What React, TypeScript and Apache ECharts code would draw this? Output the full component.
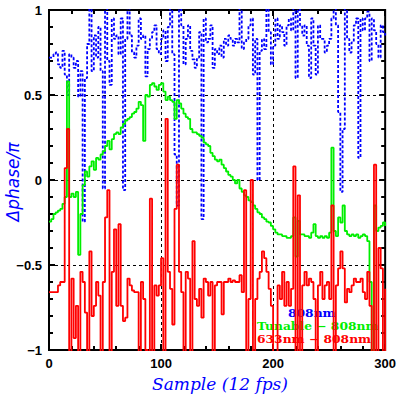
import React, { useEffect, useRef } from "react";
import * as echarts from "echarts";

// sample index (every 2nd sample shown)
const SAMPLES: number[] = Array.from({ length: 151 }, (_, i) => i * 2);

const BLUE_808: number[] = [
  0.72, 0.72, 0.74, 0.75, 0.68, 0.66, 0.76, 0.62, 0.5, 0.74,
  0.72, 0.66, 0.7, 0.49, 0.64, -0.245, 0.6, 0.8, 1.05, 0.64,
  0.85, 0.72, 0.9, 0.64, -0.05, 1.05, 0.7, 0.56, 0.95, 0.83,
  0.85, 0.74, 0.95, -0.06, 0.83, 1.05, 0.85, 0.75, 0.72, 0.79,
  0.95, 0.83, 0.85, 0.61, 0.77, 0.83, 0.87, 0.91, 0.77, 0.74,
  0.83, 0.88, 0.7, 0.9, 1.05, 0.74, 0.15, -0.15, 1.05, 0.91,
  0.68, 0.83, 0.91, 0.76, 0.71, 0.66, 0.72, 0.87, -0.23, 0.95,
  0.81, 0.83, 0.91, 0.66, 0.77, 0.74, 0.79, 0.72, 0.83, 0.79,
  0.85, 0.83, 0.79, 0.83, 0.81, 1.05, 0.77, 0.81, 0.83, 0.91,
  0.95, 0.62, 0.83, 0.0, 0.76, 0.83, 0.77, 1.05, 0.87, 0.68,
  0.79, 0.95, 0.83, 0.91, 0.87, 0.79, 0.91, 0.95, 0.88, 1.05,
  0.6, 1.05, 0.91, 0.85, 0.91, 0.79, 0.6, 0.95, 0.79, 0.62,
  0.91, 0.83, 0.83, 0.75, 0.79, 0.83, 0.95, 1.05, 0.91, 0.4,
  -0.07, 0.3, 1.05, 0.83, 0.75, 0.81, 0.91, 0.95, 0.13, 0.95,
  0.88, 0.95, 0.99, 0.7, 0.95, 0.88, 0.8, 0.72, 0.91, 0.87,
  0.85,
];

const GREEN_TUNABLE: number[] = [
  -0.245, -0.23, -0.2, -0.19, -0.18, -0.17, -0.14, -0.1, 0.58, -0.1,
  -0.08, -0.1, -0.07, -0.44, -0.2, -0.03, 0.05, 0.02, 0.08, 0.11,
  0.06, 0.13, 0.12, 0.15, 0.17, 0.2, 0.23, 0.18, 0.24, 0.27,
  0.28, 0.27, 0.31, 0.33, 0.35, 0.36, 0.37, 0.39, 0.4, 0.42,
  0.46, 0.44, 0.23, 0.5, 0.49, 0.56, 0.57, 0.55, 0.53, 0.56,
  0.57, 0.52, 0.47, 0.49, 0.47, 0.46, 0.36, 0.47, 0.45, 0.42,
  0.39, 0.37, 0.36, 0.3, 0.28, 0.28, 0.27, 0.26, 0.25, 0.22,
  0.21, 0.2, 0.16, 0.14, 0.12, 0.11, 0.12, 0.09, 0.07, 0.05,
  0.03, 0.02, 0.0, -0.02, 0.0, -0.05, -0.07, -0.09, -0.1, -0.12,
  -0.13, -0.15, -0.17, -0.19, -0.2, -0.22, -0.23, -0.245, -0.25, -0.27,
  -0.29, -0.31, -0.32, -0.32, -0.33, -0.33, -0.34, -0.34, -0.33, -0.22,
  -0.45, -0.24, -0.32, -0.32, -0.33, -0.33, -0.34, -0.31, -0.26, -0.33,
  -0.34, -0.33, -0.34, -0.33, -0.34, -0.31, 0.19, -0.3, -0.33, -0.22,
  -0.25, -0.15, -0.3, -0.32, -0.33, -0.32, -0.33, -0.32, -0.34, -0.33,
  -0.32, -0.33, -0.36, -0.6, -1.05, -0.15, -0.3, -0.28, -0.27, -0.25,
  -0.27,
];

const RED_633: number[] = [
  -0.66, -0.66, -0.66, -0.66, -0.62, -0.6, -0.6, 0.07, 0.3, -1.05,
  -0.58, -0.93, -0.74, -1.05, -0.54, -0.6, -0.78, -1.05, -0.42, -0.8,
  -0.74, -0.6, -0.68, -1.05, -0.6, -0.22, -0.06, -1.05, -0.54, -0.29,
  -0.74, -0.26, -0.74, -0.83, -0.81, -0.58, -0.62, -0.65, -0.66, -0.66,
  -1.05, -0.6, -0.7, -1.0, -1.05, -0.11, -1.05, -0.62, -0.68, -0.62,
  -0.46, -1.05, 0.36, -0.54, -0.64, -0.85, -0.17, 0.09, -0.54, -0.66,
  -1.05, -0.54, -0.58, -1.05, -0.36, -0.7, -0.74, -0.64, -0.81, -0.58,
  -0.6, -0.68, -0.6, -1.05, -0.62, -0.6, -0.6, -0.79, -0.6, -0.6,
  -0.58, -0.6, -0.59, -0.6, -0.6, -0.56, -0.66, -0.06, -1.05, -0.7,
  0.0, -1.05, -0.7, -0.58, -0.54, -0.42, -0.46, -0.54, -0.64, -0.74,
  -1.05, -1.05, -0.62, -0.7, -0.54, -0.74, -0.6, -0.74, -0.64, 0.08,
  -1.05, -0.09, -1.05, -0.62, -0.54, -0.62, -0.58, -0.6, -0.7, -1.05,
  -0.62, -0.54, -0.7, -0.62, -0.6, -0.7, -0.15, -1.05, -0.62, -0.52,
  -0.42, -0.52, -0.72, -0.64, -0.66, -0.62, -0.58, -0.6, -0.6, -0.58,
  -0.66, -0.7, -0.54, -0.74, -1.05, 0.09, -1.05, -0.4, -0.52, -1.05,
  -0.64,
];

const LEGEND_NAMES = ["808nm", "Tunable \u2212 808nm", "633nm \u2212 808nm"];
const X_TITLE = "Sample (12 fps)";
const Y_TITLE = "\u0394phase/\u03c0";

const BLUE = "#0000ff";
const GREEN = "#00ee00";
const RED = "#ff0000";

const pairs = (ys: number[]) => SAMPLES.map((x, i) => [x, ys[i]]);

export default function App() {
  const ref = useRef<HTMLDivElement>(null);
  useEffect(() => {
    if (!ref.current) return;
    const chart = echarts.init(ref.current, null, { renderer: "svg" });
    const tickFont = {
      color: "#000",
      fontFamily: "Liberation Sans, Arial, sans-serif",
      fontWeight: "bold" as const,
      fontSize: 13,
    };
    const fmt = (v: number) => String(v).replace("-", "\u2212");
    const tick = { show: true, inside: true, length: 6, lineStyle: { color: "#000", width: 2 } };
    const minor = { show: true, splitNumber: 5, length: 4, lineStyle: { color: "#000", width: 2 } };
    const baseX = {
      type: "value" as const,
      min: 0,
      max: 300,
      interval: 100,
      axisLine: { show: false, onZero: false },
      axisTick: tick,
      minorTick: minor,
    };
    const baseY = {
      type: "value" as const,
      min: -1,
      max: 1,
      interval: 0.5,
      axisLine: { show: false, onZero: false },
      axisTick: tick,
      minorTick: minor,
    };
    const legendItems = [
      { x: 288, y: 313, color: BLUE, text: LEGEND_NAMES[0] },
      { x: 257, y: 326, color: GREEN, text: LEGEND_NAMES[1] },
      { x: 257, y: 339, color: RED, text: LEGEND_NAMES[2] },
    ];
    chart.setOption({
      animation: false,
      backgroundColor: "#fff",
      grid: {
        left: 49,
        right: 9,
        top: 10,
        bottom: 49,
        show: true,
        borderColor: "#000",
        borderWidth: 2,
        backgroundColor: "transparent",
      },
      xAxis: [
        {
          ...baseX,
          position: "bottom",
          axisLabel: { ...tickFont, margin: 7, formatter: fmt },
          splitLine: { show: true, lineStyle: { color: "#000", width: 1, type: [3, 3] } },
        },
        {
          ...baseX,
          position: "top",
          axisLabel: { show: false },
          splitLine: { show: false },
        },
      ],
      yAxis: [
        {
          ...baseY,
          position: "left",
          axisLabel: { ...tickFont, margin: 7, formatter: fmt },
          splitLine: { show: true, lineStyle: { color: "#000", width: 1, type: [3, 3] } },
        },
        {
          ...baseY,
          position: "right",
          axisLabel: { show: false },
          splitLine: { show: false },
        },
      ],
      graphic: [
        {
          type: "text",
          x: 220,
          y: 384,
          style: {
            text: X_TITLE,
            fill: BLUE,
            font: "italic 17px 'DejaVu Serif', serif",
            align: "center",
            verticalAlign: "middle",
          },
        },
        {
          type: "text",
          x: 13,
          y: 182,
          rotation: Math.PI / 2,
          style: {
            text: Y_TITLE,
            fill: BLUE,
            font: "italic 17px 'DejaVu Sans', sans-serif",
            align: "center",
            verticalAlign: "middle",
          },
        },
        ...legendItems.map((l) => ({
          type: "text",
          x: l.x,
          y: l.y,
          scaleX: 1.12,
          z: 1,
          style: {
            text: l.text,
            fill: l.color,
            font: "bold 11px 'DejaVu Serif', serif",
            align: "left",
            verticalAlign: "middle",
          },
        })),
      ],
      series: [
        {
          name: LEGEND_NAMES[0],
          type: "line",
          data: pairs(BLUE_808),
          showSymbol: false,
          step: "end",
          z: 3,
          lineStyle: { color: BLUE, width: 1.8, type: [3, 2] },
        },
        {
          name: LEGEND_NAMES[1],
          type: "line",
          data: pairs(GREEN_TUNABLE),
          showSymbol: false,
          step: "end",
          z: 4,
          lineStyle: { color: GREEN, width: 1.8 },
        },
        {
          name: LEGEND_NAMES[2],
          type: "line",
          data: pairs(RED_633),
          showSymbol: false,
          step: "end",
          z: 5,
          lineStyle: { color: RED, width: 1.8 },
        },
      ],
    });
    return () => chart.dispose();
  }, []);
  return <div ref={ref} style={{ width: 399, height: 399, position: "absolute", left: 0, top: 0 }} />;
}
